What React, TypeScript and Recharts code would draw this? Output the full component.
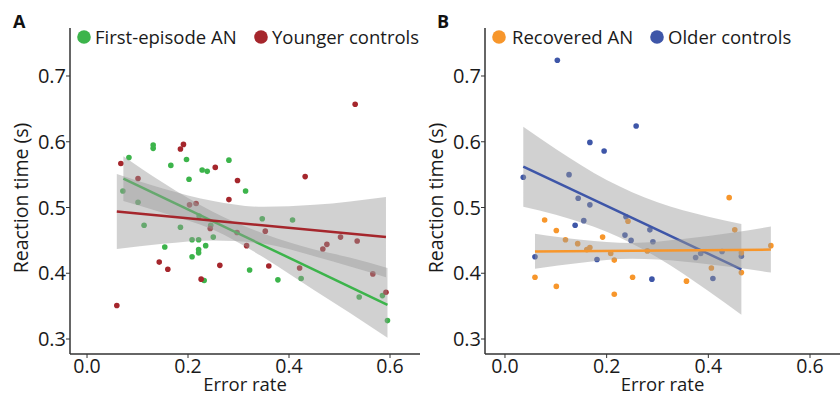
import { ComposedChart, Scatter, Line, Area, XAxis, YAxis, Label } from 'recharts';

const FONT = '"Open Sans", "Noto Sans", sans-serif';

const xTicks = [0, 0.2, 0.4, 0.6];
const yTicks = [0.3, 0.4, 0.5, 0.6, 0.7];

// Panel A: first-episode AN vs younger controls
const firstEpisodeAN = [
  { x: 0.083, y: 0.576 }, { x: 0.131, y: 0.595 }, { x: 0.131, y: 0.59 }, { x: 0.166, y: 0.564 },
  { x: 0.197, y: 0.573 }, { x: 0.202, y: 0.543 }, { x: 0.228, y: 0.557 }, { x: 0.238, y: 0.555 },
  { x: 0.281, y: 0.572 }, { x: 0.314, y: 0.525 }, { x: 0.071, y: 0.525 }, { x: 0.101, y: 0.508 },
  { x: 0.113, y: 0.473 }, { x: 0.185, y: 0.47 }, { x: 0.154, y: 0.44 }, { x: 0.208, y: 0.451 },
  { x: 0.221, y: 0.451 }, { x: 0.221, y: 0.436 }, { x: 0.221, y: 0.431 }, { x: 0.208, y: 0.425 },
  { x: 0.235, y: 0.442 }, { x: 0.232, y: 0.389 }, { x: 0.25, y: 0.455 }, { x: 0.245, y: 0.473 },
  { x: 0.222, y: 0.487 }, { x: 0.322, y: 0.405 }, { x: 0.347, y: 0.483 }, { x: 0.407, y: 0.481 },
  { x: 0.378, y: 0.39 }, { x: 0.424, y: 0.392 }, { x: 0.539, y: 0.364 }, { x: 0.585, y: 0.366 },
  { x: 0.595, y: 0.328 },
];
const youngerControls = [
  { x: 0.067, y: 0.567 }, { x: 0.191, y: 0.596 }, { x: 0.185, y: 0.589 }, { x: 0.254, y: 0.561 },
  { x: 0.298, y: 0.541 }, { x: 0.281, y: 0.512 }, { x: 0.101, y: 0.544 }, { x: 0.203, y: 0.504 },
  { x: 0.216, y: 0.506 }, { x: 0.531, y: 0.657 }, { x: 0.432, y: 0.547 }, { x: 0.143, y: 0.417 },
  { x: 0.16, y: 0.406 }, { x: 0.226, y: 0.391 }, { x: 0.263, y: 0.412 }, { x: 0.059, y: 0.351 },
  { x: 0.244, y: 0.468 }, { x: 0.297, y: 0.462 }, { x: 0.353, y: 0.464 }, { x: 0.316, y: 0.442 },
  { x: 0.36, y: 0.411 }, { x: 0.421, y: 0.408 }, { x: 0.467, y: 0.437 }, { x: 0.475, y: 0.444 },
  { x: 0.502, y: 0.455 }, { x: 0.535, y: 0.449 }, { x: 0.566, y: 0.399 }, { x: 0.592, y: 0.371 },
];
const firstEpisodeFit = [{ x: 0.072, y: 0.544 }, { x: 0.595, y: 0.352 }];
const youngerFit = [{ x: 0.059, y: 0.494 }, { x: 0.592, y: 0.455 }];
const firstEpisodeBand = [
  { x: 0.072, band: [0.51, 0.578] },
  { x: 0.15, band: [0.492, 0.538] },
  { x: 0.25, band: [0.466, 0.493] },
  { x: 0.35, band: [0.424, 0.46] },
  { x: 0.45, band: [0.374, 0.436] },
  { x: 0.52, band: [0.34, 0.424] },
  { x: 0.595, band: [0.302, 0.408] },
];
const youngerBand = [
  { x: 0.059, band: [0.437, 0.551] },
  { x: 0.15, band: [0.445, 0.529] },
  { x: 0.25, band: [0.45, 0.51] },
  { x: 0.35, band: [0.445, 0.501] },
  { x: 0.45, band: [0.426, 0.504] },
  { x: 0.592, band: [0.394, 0.516] },
];

// Panel B: recovered AN vs older controls
const recoveredAN = [
  { x: 0.078, y: 0.481 }, { x: 0.101, y: 0.465 }, { x: 0.119, y: 0.451 }, { x: 0.143, y: 0.445 },
  { x: 0.161, y: 0.436 }, { x: 0.167, y: 0.439 }, { x: 0.192, y: 0.455 }, { x: 0.208, y: 0.43 },
  { x: 0.215, y: 0.42 }, { x: 0.242, y: 0.479 }, { x: 0.059, y: 0.394 }, { x: 0.101, y: 0.38 },
  { x: 0.215, y: 0.368 }, { x: 0.251, y: 0.394 }, { x: 0.28, y: 0.434 }, { x: 0.441, y: 0.515 },
  { x: 0.452, y: 0.466 }, { x: 0.523, y: 0.442 }, { x: 0.406, y: 0.408 }, { x: 0.465, y: 0.401 },
  { x: 0.357, y: 0.388 }, { x: 0.465, y: 0.431 },
];
const olderControls = [
  { x: 0.103, y: 0.724 }, { x: 0.258, y: 0.624 }, { x: 0.167, y: 0.599 }, { x: 0.195, y: 0.586 },
  { x: 0.036, y: 0.546 }, { x: 0.126, y: 0.55 }, { x: 0.144, y: 0.514 }, { x: 0.167, y: 0.504 },
  { x: 0.138, y: 0.473 }, { x: 0.155, y: 0.48 }, { x: 0.236, y: 0.458 }, { x: 0.248, y: 0.45 },
  { x: 0.285, y: 0.466 }, { x: 0.291, y: 0.448 }, { x: 0.181, y: 0.421 }, { x: 0.059, y: 0.425 },
  { x: 0.289, y: 0.391 }, { x: 0.238, y: 0.486 }, { x: 0.375, y: 0.424 }, { x: 0.385, y: 0.43 },
  { x: 0.427, y: 0.433 }, { x: 0.465, y: 0.426 }, { x: 0.409, y: 0.392 },
];
const recoveredFit = [{ x: 0.059, y: 0.433 }, { x: 0.523, y: 0.436 }];
const olderFit = [{ x: 0.036, y: 0.562 }, { x: 0.465, y: 0.406 }];
const recoveredBand = [
  { x: 0.059, band: [0.407, 0.46] },
  { x: 0.15, band: [0.416, 0.451] },
  { x: 0.25, band: [0.422, 0.446] },
  { x: 0.35, band: [0.418, 0.452] },
  { x: 0.45, band: [0.409, 0.462] },
  { x: 0.523, band: [0.401, 0.471] },
];
const olderBand = [
  { x: 0.036, band: [0.501, 0.623] },
  { x: 0.1, band: [0.489, 0.589] },
  { x: 0.2, band: [0.463, 0.542] },
  { x: 0.3, band: [0.424, 0.508] },
  { x: 0.4, band: [0.373, 0.486] },
  { x: 0.465, band: [0.337, 0.475] },
];

const GREEN = '#3cb44b';
const RED = '#a5262c';
const ORANGE = '#f7962b';
const BLUE = '#3e56a8';
const BAND = '#9a9a9a';
const AXIS = '#333333';

const dot = (color: string) => (props: any) =>
  <circle cx={props.cx} cy={props.cy} r={2.8} fill={color} />;

interface Group {
  points: { x: number; y: number }[];
  fit: { x: number; y: number }[];
  band: { x: number; band: number[] }[];
  color: string;
}

function Panel({ yWidth, xDomain, groups }: { yWidth: number; xDomain: number[]; groups: Group[] }) {
  return (
    <ComposedChart width={420} height={396} margin={{ top: 28, right: 0, bottom: 0, left: 0 }}>
      <XAxis
        type="number"
        dataKey="x"
        domain={xDomain}
        ticks={xTicks}
        allowDataOverflow
        height={42}
        tickSize={4}
        tickMargin={1}
        tickFormatter={(v: number) => v.toFixed(1)}
        axisLine={{ stroke: AXIS, strokeWidth: 1.5 }}
        tickLine={{ stroke: AXIS }}
        tick={{ fill: '#1a1a1a', fontSize: 19.5, fontFamily: FONT }}
      >
        <Label
          content={({ viewBox }: any) => (
            <text x={viewBox.x + viewBox.width / 2} y={391} textAnchor="middle"
              fontSize={18.5} fontFamily={FONT} fill="#1a1a1a">Error rate</text>
          )}
        />
      </XAxis>
      <YAxis
        type="number"
        domain={[0.2772, 0.773]}
        ticks={yTicks}
        allowDataOverflow
        width={yWidth}
        tickSize={4}
        tickMargin={0}
        tickFormatter={(v: number) => v.toFixed(1)}
        axisLine={{ stroke: AXIS, strokeWidth: 1.5 }}
        tickLine={{ stroke: AXIS }}
        tick={{ fill: '#1a1a1a', fontSize: 20, fontFamily: FONT }}
      >
        <Label
          content={() => (
            <text x={yWidth - 50} y={198} textAnchor="middle" dominantBaseline="central"
              transform={`rotate(-90 ${yWidth - 50} 198)`}
              fontSize={19.5} fontFamily={FONT} fill="#1a1a1a">Reaction time (s)</text>
          )}
        />
      </YAxis>
      {groups.map((g, i) => (
        <Scatter key={'s' + i} data={g.points} dataKey="y" fill={g.color}
          shape={dot(g.color)} isAnimationActive={false} zIndex={50} />
      ))}
      {groups.flatMap((g, i) => [
        <Area key={'a' + i} data={g.band} dataKey="band" type="monotone" stroke="none"
          fill={BAND} fillOpacity={0.45} isAnimationActive={false} zIndex={100 + i * 10} />,
        <Line key={'l' + i} data={g.fit} dataKey="y" stroke={g.color} strokeWidth={2.5}
          dot={false} activeDot={false} isAnimationActive={false} zIndex={105 + i * 10} />,
      ])}
    </ComposedChart>
  );
}

function LegendItem({ cx, tx, color, label }: { cx: number; tx: number; color: string; label: string }) {
  return (
    <g>
      <circle cx={cx} cy={37} r={6.8} fill={color} />
      <text x={tx} y={44} fontSize={18.5} fontFamily={FONT} fill="#1a1a1a">{label}</text>
    </g>
  );
}

export default function App() {
  return (
    <div style={{ position: 'absolute', left: 0, top: 0, width: 840, height: 396, background: '#fff', overflow: 'hidden' }}>
      <div style={{ position: 'absolute', left: 0, top: 0 }}>
        <Panel
          yWidth={70}
          xDomain={[-0.0337, 0.6594]}
          groups={[
            { points: firstEpisodeAN, fit: firstEpisodeFit, band: firstEpisodeBand, color: GREEN },
            { points: youngerControls, fit: youngerFit, band: youngerBand, color: RED },
          ]}
        />
      </div>
      <div style={{ position: 'absolute', left: 420, top: 0 }}>
        <Panel
          yWidth={65}
          xDomain={[-0.0393, 0.659]}
          groups={[
            { points: olderControls, fit: olderFit, band: olderBand, color: BLUE },
            { points: recoveredAN, fit: recoveredFit, band: recoveredBand, color: ORANGE },
          ]}
        />
      </div>
      <svg width={840} height={60} style={{ position: 'absolute', left: 0, top: 0, pointerEvents: 'none' }}>
        <text x={13} y={28} fontSize={18} fontWeight="bold" fontFamily={FONT} fill="#111">A</text>
        <text x={437} y={28} fontSize={18} fontWeight="bold" fontFamily={FONT} fill="#111">B</text>
        <LegendItem cx={84} tx={95} color={GREEN} label="First-episode AN" />
        <LegendItem cx={261} tx={272} color={RED} label="Younger controls" />
        <LegendItem cx={499} tx={512} color={ORANGE} label="Recovered AN" />
        <LegendItem cx={657} tx={668} color={BLUE} label="Older controls" />
      </svg>
    </div>
  );
}
